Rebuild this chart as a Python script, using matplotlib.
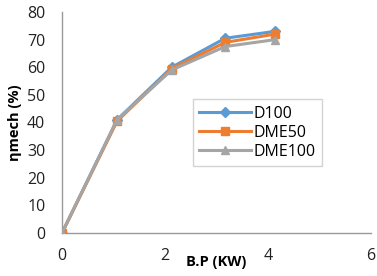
import matplotlib
matplotlib.use("Agg")
import matplotlib.pyplot as plt

bp = [0, 1.07, 2.13, 3.17, 4.14]
d100 = [0, 41, 60, 70.5, 73]
dme50 = [0, 40.5, 59.5, 69, 72]
dme100 = [0, 41, 59, 67.5, 70]
series_names = ["D100", "DME50", "DME100"]
xticks = [0, 2, 4, 6]
yticks = [0, 10, 20, 30, 40, 50, 60, 70, 80]

plt.rcParams['font.family'] = ['Open Sans', 'DejaVu Sans']

fig = plt.figure(figsize=(3.77, 2.76), dpi=100)
ax = fig.add_axes([62/377, 43/276, 309/377, 221/276])

ax.plot(bp, d100, color='#5B9BD5', marker='D', markersize=5, lw=2.2, label=series_names[0], zorder=3)
ax.plot(bp, dme50, color='#ED7D31', marker='s', markersize=6, lw=2.2, label=series_names[1], zorder=4)
ax.plot(bp, dme100, color='#A5A5A5', marker='^', markersize=6, lw=2.2, label=series_names[2], zorder=5)

ax.set_xlim(0, 6)
ax.set_ylim(0, 80)
ax.set_xticks(xticks)
ax.set_yticks(yticks)
ax.tick_params(length=0, labelsize=11.5, colors='#222222')
ax.tick_params(axis='x', pad=11)
ax.tick_params(axis='y', pad=12)
for s in ['top', 'right']:
    ax.spines[s].set_visible(False)
for s in ['left', 'bottom']:
    ax.spines[s].set_color('#9a9a9a')
    ax.spines[s].set_linewidth(1)

ax.set_ylabel('ηmech (%)', fontsize=10.5, fontweight='bold', labelpad=4)
ax.text(0.498, -0.13, 'B.P (KW)', transform=ax.transAxes, fontsize=10.5,
        fontweight='bold', ha='center', va='center')

leg = ax.legend(loc='upper left', bbox_to_anchor=(0.424, 0.605), fontsize=11.5,
                frameon=True, fancybox=False, handlelength=3.2,
                borderpad=0.4, labelspacing=0.2, handletextpad=0.2,
                borderaxespad=0)
leg.get_frame().set_edgecolor('#c8c8c8')
leg.get_frame().set_linewidth(1)

fig.savefig('out.png', dpi=100)
